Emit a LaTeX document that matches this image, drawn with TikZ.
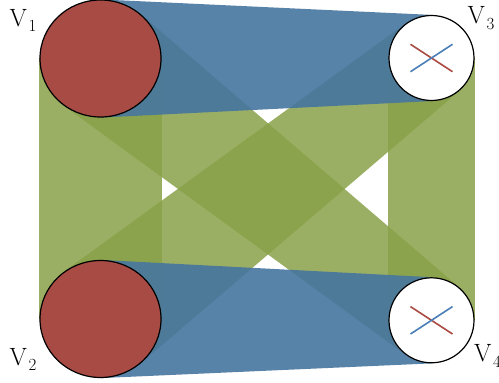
\documentclass[tikz,border=0pt]{standalone}
\usetikzlibrary{shapes.geometric,calc}
\definecolor{bandgreen}{RGB}{137,161,73}
\definecolor{bandblue}{RGB}{70,117,160}
\definecolor{vred}{RGB}{168,75,69}
\definecolor{xblue}{RGB}{74,126,182}
\definecolor{xred}{RGB}{170,74,66}
\pgfdeclarelayer{bg}
\pgfsetlayers{bg,main}
\newcommand{\vsub}[1]{\kern1.5pt\raisebox{-5.5pt}{\fontsize{17}{18}\selectfont #1}}
\tikzset{
  gband/.style={fill=bandgreen, fill opacity=0.85, draw=none},
  bband/.style={fill=bandblue, fill opacity=0.9, draw=none},
  bigv/.style={ellipse, draw=black, line width=1.2pt, fill=vred, minimum width=121pt, minimum height=117pt, inner sep=0pt},
  smallv/.style={circle, draw=black, line width=1.2pt, fill=white, minimum size=85pt, inner sep=0pt},
  vlabel/.style={font=\fontsize{25}{29}\selectfont, inner sep=0pt, anchor=base west},
  xline/.style={line width=1.6pt},
}
\begin{document}
\begin{tikzpicture}[x=1pt,y=1pt]
\useasboundingbox (0,0) rectangle (499,383);
% vertices
\node[bigv] (v1) at (100.5,324.5) {};
\node[bigv] (v2) at (100.5,64) {};
\node[smallv] (v3) at (431.5,325) {};
\node[smallv] (v4) at (431.5,62.7) {};
% bands
\begin{pgfonlayer}{bg}
  \fill[gband] (v1.west) -- (v1.east) -- (v2.east) -- (v2.west) -- cycle;
  \fill[gband] (v3.west) -- (v3.east) -- (v4.east) -- (v4.west) -- cycle;
  \fill[gband] (v1.51.7) -- (v4.51.7) -- (v4.-128.3) -- (v1.-128.3) -- cycle;
  \fill[gband] (v2.128.2) -- (v3.128.2) -- (v3.-51.8) -- (v2.-51.8) -- cycle;
  \fill[bband] (v1.north) -- (v3.north) -- (v3.south) -- (v1.south) -- cycle;
  \fill[bband] (v2.north) -- (v4.north) -- (v4.south) -- (v2.south) -- cycle;
\end{pgfonlayer}
% crosses
\draw[xline, xred] ($(v3)+(-21,13.7)$) -- ($(v3)+(21,-13.7)$);
\draw[xline, xblue] ($(v3)+(-21,-13.7)$) -- ($(v3)+(21,13.7)$);
\draw[xline, xred] ($(v4)+(-21,13.7)$) -- ($(v4)+(21,-13.7)$);
\draw[xline, xblue] ($(v4)+(-21,-13.7)$) -- ($(v4)+(21,13.7)$);
% labels
\node[vlabel] (l1) at (9.5,356.5) {V\vsub{1}};
\node[vlabel] (l3) at (467.5,359) {V\vsub{3}};
\node[vlabel] (l2) at (9.5,17.5) {V\vsub{2}};
\node[vlabel] (l4) at (474,21) {V\vsub{4}};
\end{tikzpicture}
\end{document}
